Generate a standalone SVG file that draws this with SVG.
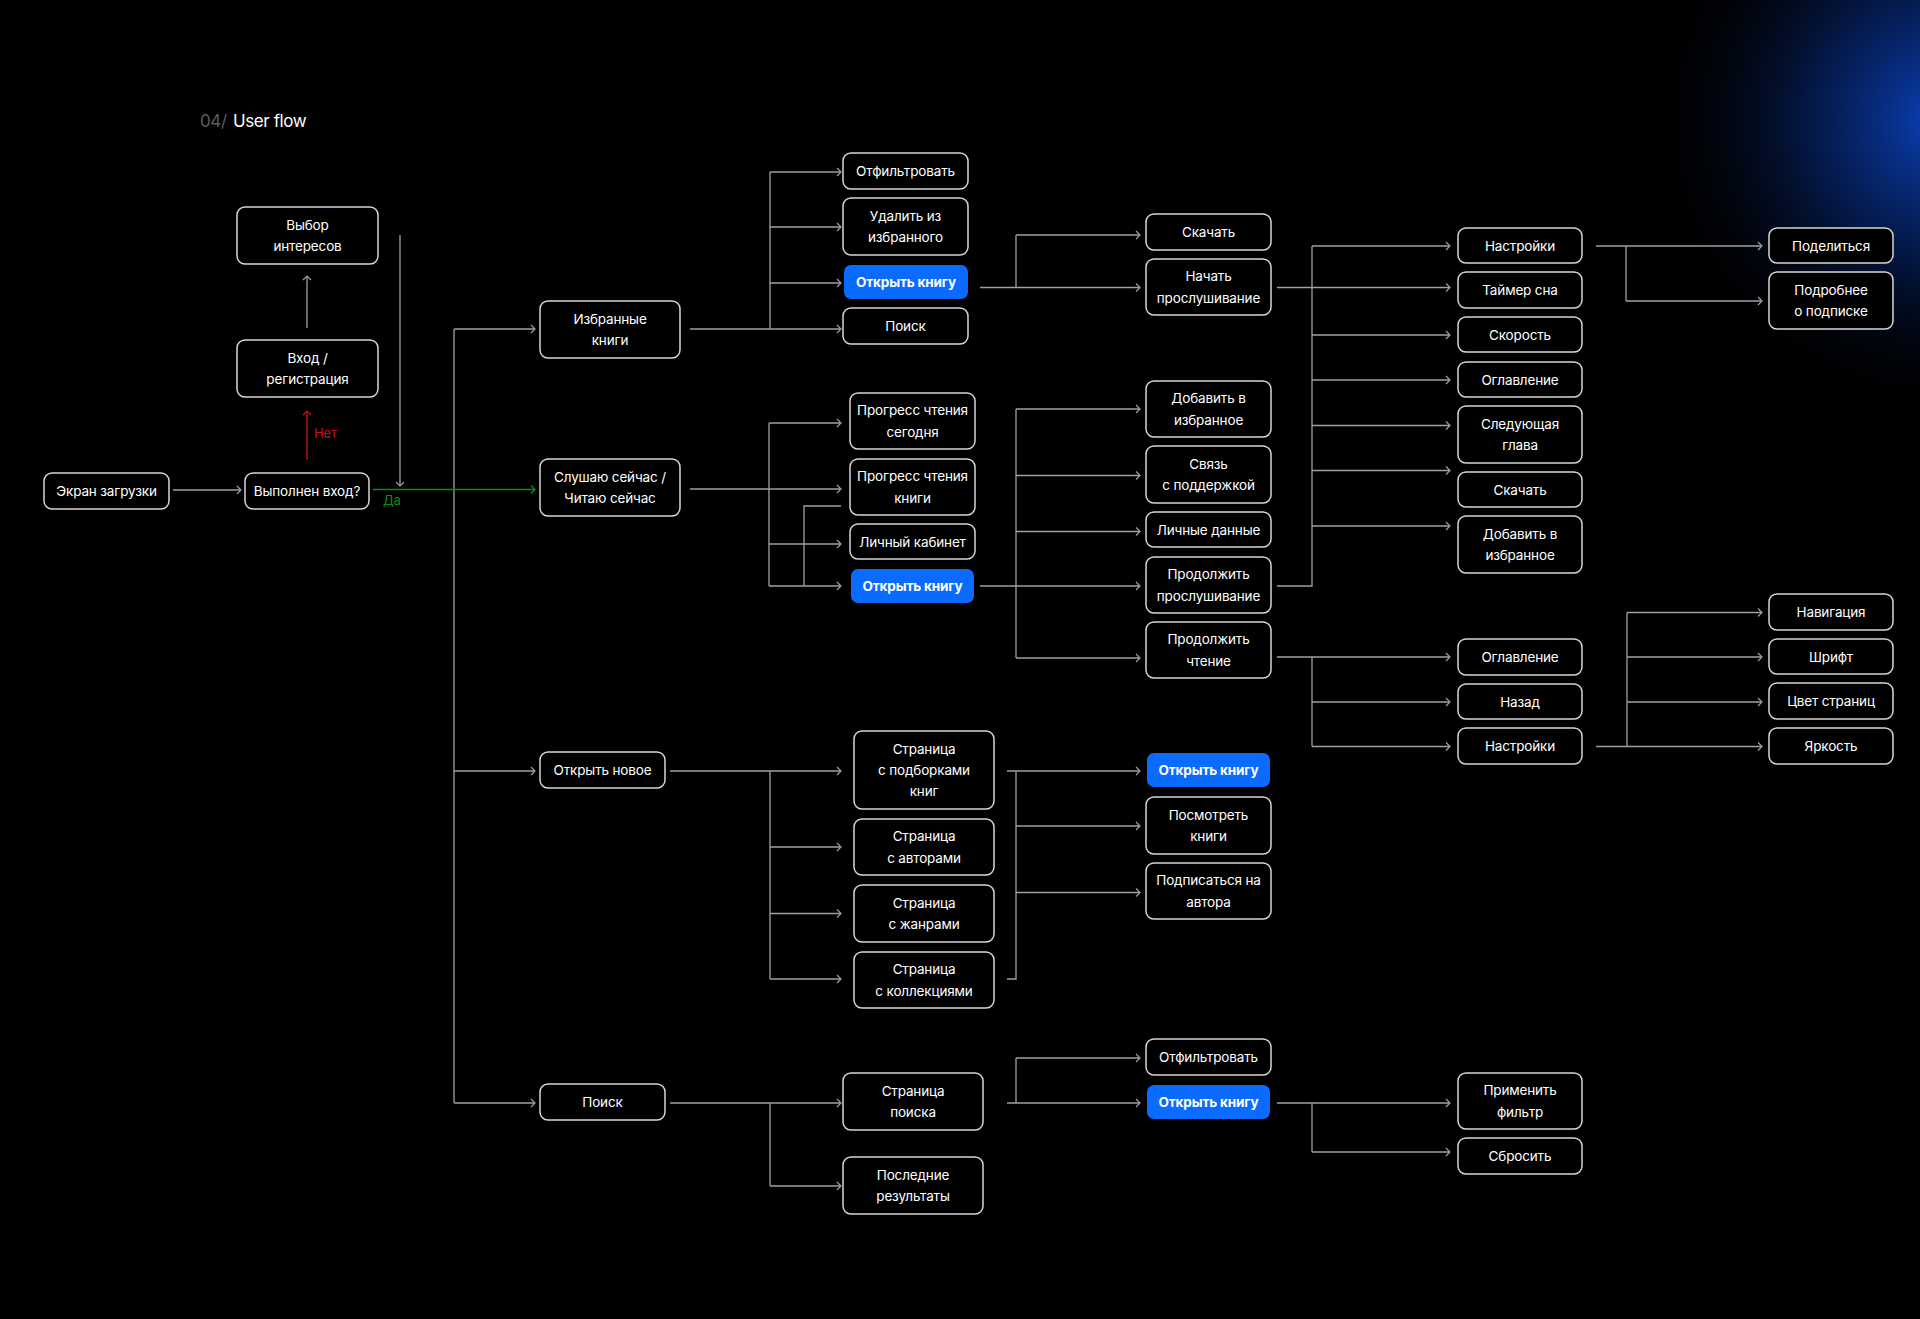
<svg xmlns="http://www.w3.org/2000/svg" width="1920" height="1319" viewBox="0 0 1920 1319">
<defs>
<radialGradient id="glow" cx="1945" cy="120" r="300" gradientUnits="userSpaceOnUse">
<stop offset="0" stop-color="#0c4fe0" stop-opacity="0.85"/>
<stop offset="0.45" stop-color="#0a3aa8" stop-opacity="0.42"/>
<stop offset="1" stop-color="#000" stop-opacity="0"/>
</radialGradient>
<marker id="ah" markerUnits="userSpaceOnUse" markerWidth="10" markerHeight="12" refX="5" refY="5" orient="auto">
<path d="M1,1 L5,5 L1,9" fill="none" stroke="#a0a0a0" stroke-width="1.2"/>
</marker>
<marker id="ahr" markerUnits="userSpaceOnUse" markerWidth="10" markerHeight="12" refX="5" refY="5" orient="auto">
<path d="M1,1 L5,5 L1,9" fill="none" stroke="#c3141e" stroke-width="1.2"/>
</marker>
<marker id="ahg" markerUnits="userSpaceOnUse" markerWidth="10" markerHeight="12" refX="5" refY="5" orient="auto">
<path d="M1,1 L5,5 L1,9" fill="none" stroke="#138a13" stroke-width="1.2"/>
</marker>
</defs>
<style>
.n rect{fill:#000;stroke:#d6d6d6;stroke-width:1.5}
.b rect{fill:#0b6bff;stroke:none}
text{font-family:Inter,"Liberation Sans",sans-serif;font-size:13.5px;letter-spacing:-0.15px;fill:#fff;text-anchor:middle}
.b text{font-weight:700}
.c path{fill:none;stroke:#a0a0a0;stroke-width:1.3}
.c .a{marker-end:url(#ah)}
</style>
<rect width="1920" height="1319" fill="#000"/>
<rect width="1920" height="1319" fill="url(#glow)"/>
<g id="title">
<text x="200" y="127" style="font-size:17px;letter-spacing:-0.4px;text-anchor:start;fill:#5c5c5c">04/</text>
<text x="233" y="127" style="font-size:17px;letter-spacing:-0.4px;text-anchor:start">User flow</text>
</g>
<g id="connectors" class="c">
<path class="a" d="M173,490 H241"/>
<path d="M307,460 V411" style="stroke:#c3141e;marker-end:url(#ahr)"/>
<path class="a" d="M307,328 V276"/>
<path class="a" d="M400,235 V486"/>
<path d="M454,329 V1103"/>
<path class="a" d="M454,329 H535"/>
<path class="a" d="M454,771 H535"/>
<path class="a" d="M454,1103 H535"/>
<path d="M373,489.5 H535" style="stroke:#138a13;marker-end:url(#ahg)"/>
<path class="a" d="M690,329 H841"/>
<path d="M770,172 V329"/>
<path class="a" d="M770,172 H841"/>
<path class="a" d="M770,227 H841"/>
<path class="a" d="M770,283 H841"/>
<path class="a" d="M690,489 H841"/>
<path d="M769,423 V586"/>
<path class="a" d="M769,423 H841"/>
<path class="a" d="M769,544 H841"/>
<path class="a" d="M769,586 H841"/>
<path d="M841,506 H804 V586"/>
<path class="a" d="M980,287.5 H1140"/>
<path d="M1016,235 V287.5"/>
<path class="a" d="M1016,235 H1140"/>
<path class="a" d="M980,586 H1140"/>
<path d="M1016,409 V658"/>
<path class="a" d="M1016,409 H1140"/>
<path class="a" d="M1016,475.5 H1140"/>
<path class="a" d="M1016,531.5 H1140"/>
<path class="a" d="M1016,658 H1140"/>
<path class="a" d="M1277,287.5 H1450"/>
<path d="M1312,246 V586 H1277"/>
<path class="a" d="M1312,246 H1450"/>
<path class="a" d="M1312,335 H1450"/>
<path class="a" d="M1312,380 H1450"/>
<path class="a" d="M1312,425.5 H1450"/>
<path class="a" d="M1312,470.5 H1450"/>
<path class="a" d="M1312,526 H1450"/>
<path class="a" d="M1277,657 H1450"/>
<path d="M1312,657 V746.5"/>
<path class="a" d="M1312,702 H1450"/>
<path class="a" d="M1312,746.5 H1450"/>
<path class="a" d="M1596,246 H1762"/>
<path d="M1626,246 V301"/>
<path class="a" d="M1626,301 H1762"/>
<path class="a" d="M1596,746.5 H1762"/>
<path d="M1627,612.5 V746.5"/>
<path class="a" d="M1627,612.5 H1762"/>
<path class="a" d="M1627,657 H1762"/>
<path class="a" d="M1627,702 H1762"/>
<path class="a" d="M670,771 H841"/>
<path d="M770,771 V979"/>
<path class="a" d="M770,847 H841"/>
<path class="a" d="M770,913.5 H841"/>
<path class="a" d="M770,979 H841"/>
<path class="a" d="M1007,771 H1140"/>
<path d="M1016,771 V979 H1007"/>
<path class="a" d="M1016,826 H1140"/>
<path class="a" d="M1016,892.5 H1140"/>
<path class="a" d="M670,1103 H841"/>
<path d="M770,1103 V1186"/>
<path class="a" d="M770,1186 H841"/>
<path class="a" d="M1007,1103 H1140"/>
<path d="M1016,1058 V1103"/>
<path class="a" d="M1016,1058 H1140"/>
<path class="a" d="M1277,1103 H1450"/>
<path d="M1312,1103 V1152"/>
<path class="a" d="M1312,1152 H1450"/>
</g>
<g id="labels">
<text x="314" y="438" style="fill:#c3141e;text-anchor:start;font-size:13px">Нет</text>
<text x="383" y="505" style="fill:#138a13;text-anchor:start;font-size:13px">Да</text>
</g>
<g id="n1" class="n"><rect x="44" y="473" width="125" height="36" rx="8"/><text x="106.5" y="496">Экран загрузки</text></g>
<g id="n2" class="n"><rect x="245" y="473" width="124" height="36" rx="8"/><text x="307" y="496">Выполнен вход?</text></g>
<g id="n3" class="n"><rect x="237" y="340" width="141" height="57" rx="8"/><text x="307.5" y="362.7">Вход /</text><text x="307.5" y="384.2">регистрация</text></g>
<g id="n4" class="n"><rect x="237" y="207" width="141" height="57" rx="8"/><text x="307.5" y="229.7">Выбор</text><text x="307.5" y="251.2">интересов</text></g>
<g id="n5" class="n"><rect x="540" y="301" width="140" height="57" rx="8"/><text x="610" y="323.7">Избранные</text><text x="610" y="345.2">книги</text></g>
<g id="n6" class="n"><rect x="540" y="459" width="140" height="57" rx="8"/><text x="610" y="481.7">Слушаю сейчас /</text><text x="610" y="503.2">Читаю сейчас</text></g>
<g id="n7" class="n"><rect x="540" y="752" width="125" height="36" rx="8"/><text x="602.5" y="775">Открыть новое</text></g>
<g id="n8" class="n"><rect x="540" y="1084" width="125" height="36" rx="8"/><text x="602.5" y="1107">Поиск</text></g>
<g id="n9" class="n"><rect x="843" y="153" width="125" height="36" rx="8"/><text x="905.5" y="176">Отфильтровать</text></g>
<g id="n10" class="n"><rect x="843" y="198" width="125" height="57" rx="8"/><text x="905.5" y="220.7">Удалить из</text><text x="905.5" y="242.2">избранного</text></g>
<g id="n11" class="b"><rect x="844" y="265" width="124" height="34" rx="7"/><text x="906" y="287">Открыть книгу</text></g>
<g id="n12" class="n"><rect x="843" y="308" width="125" height="36" rx="8"/><text x="905.5" y="331">Поиск</text></g>
<g id="n13" class="n"><rect x="850" y="393" width="125" height="56" rx="8"/><text x="912.5" y="415.2">Прогресс чтения</text><text x="912.5" y="436.7">сегодня</text></g>
<g id="n14" class="n"><rect x="850" y="459" width="125" height="56" rx="8"/><text x="912.5" y="481.2">Прогресс чтения</text><text x="912.5" y="502.7">книги</text></g>
<g id="n15" class="n"><rect x="850" y="524" width="125" height="35" rx="8"/><text x="912.5" y="546.5">Личный кабинет</text></g>
<g id="n16" class="b"><rect x="851" y="569" width="123" height="34" rx="7"/><text x="912.5" y="591">Открыть книгу</text></g>
<g id="n17" class="n"><rect x="854" y="731" width="140" height="78" rx="8"/><text x="924" y="754">Страница</text><text x="924" y="775">с подборками</text><text x="924" y="796">книг</text></g>
<g id="n18" class="n"><rect x="854" y="819" width="140" height="56" rx="8"/><text x="924" y="841.2">Страница</text><text x="924" y="862.7">с авторами</text></g>
<g id="n19" class="n"><rect x="854" y="885" width="140" height="57" rx="8"/><text x="924" y="907.7">Страница</text><text x="924" y="929.2">с жанрами</text></g>
<g id="n20" class="n"><rect x="854" y="952" width="140" height="56" rx="8"/><text x="924" y="974.2">Страница</text><text x="924" y="995.7">с коллекциями</text></g>
<g id="n21" class="n"><rect x="843" y="1073" width="140" height="57" rx="8"/><text x="913" y="1095.7">Страница</text><text x="913" y="1117.2">поиска</text></g>
<g id="n22" class="n"><rect x="843" y="1157" width="140" height="57" rx="8"/><text x="913" y="1179.7">Последние</text><text x="913" y="1201.2">результаты</text></g>
<g id="n23" class="n"><rect x="1146" y="214" width="125" height="36" rx="8"/><text x="1208.5" y="237">Скачать</text></g>
<g id="n24" class="n"><rect x="1146" y="259" width="125" height="56" rx="8"/><text x="1208.5" y="281.2">Начать</text><text x="1208.5" y="302.7">прослушивание</text></g>
<g id="n25" class="n"><rect x="1146" y="381" width="125" height="56" rx="8"/><text x="1208.5" y="403.2">Добавить в</text><text x="1208.5" y="424.7">избранное</text></g>
<g id="n26" class="n"><rect x="1146" y="446" width="125" height="57" rx="8"/><text x="1208.5" y="468.7">Связь</text><text x="1208.5" y="490.2">с поддержкой</text></g>
<g id="n27" class="n"><rect x="1146" y="512" width="125" height="35" rx="8"/><text x="1208.5" y="534.5">Личные данные</text></g>
<g id="n28" class="n"><rect x="1146" y="557" width="125" height="56" rx="8"/><text x="1208.5" y="579.2">Продолжить</text><text x="1208.5" y="600.7">прослушивание</text></g>
<g id="n29" class="n"><rect x="1146" y="622" width="125" height="56" rx="8"/><text x="1208.5" y="644.2">Продолжить</text><text x="1208.5" y="665.7">чтение</text></g>
<g id="n30" class="b"><rect x="1147" y="753" width="123" height="34" rx="7"/><text x="1208.5" y="775">Открыть книгу</text></g>
<g id="n31" class="n"><rect x="1146" y="797" width="125" height="57" rx="8"/><text x="1208.5" y="819.7">Посмотреть</text><text x="1208.5" y="841.2">книги</text></g>
<g id="n32" class="n"><rect x="1146" y="863" width="125" height="56" rx="8"/><text x="1208.5" y="885.2">Подписаться на</text><text x="1208.5" y="906.7">автора</text></g>
<g id="n33" class="n"><rect x="1146" y="1039" width="125" height="36" rx="8"/><text x="1208.5" y="1062">Отфильтровать</text></g>
<g id="n34" class="b"><rect x="1147" y="1085" width="123" height="34" rx="7"/><text x="1208.5" y="1107">Открыть книгу</text></g>
<g id="n35" class="n"><rect x="1458" y="228" width="124" height="35" rx="8"/><text x="1520" y="250.5">Настройки</text></g>
<g id="n36" class="n"><rect x="1458" y="272" width="124" height="36" rx="8"/><text x="1520" y="295">Таймер сна</text></g>
<g id="n37" class="n"><rect x="1458" y="317" width="124" height="35" rx="8"/><text x="1520" y="339.5">Скорость</text></g>
<g id="n38" class="n"><rect x="1458" y="362" width="124" height="35" rx="8"/><text x="1520" y="384.5">Оглавление</text></g>
<g id="n39" class="n"><rect x="1458" y="406" width="124" height="57" rx="8"/><text x="1520" y="428.7">Следующая</text><text x="1520" y="450.2">глава</text></g>
<g id="n40" class="n"><rect x="1458" y="472" width="124" height="35" rx="8"/><text x="1520" y="494.5">Скачать</text></g>
<g id="n41" class="n"><rect x="1458" y="516" width="124" height="57" rx="8"/><text x="1520" y="538.7">Добавить в</text><text x="1520" y="560.2">избранное</text></g>
<g id="n42" class="n"><rect x="1458" y="639" width="124" height="36" rx="8"/><text x="1520" y="662">Оглавление</text></g>
<g id="n43" class="n"><rect x="1458" y="684" width="124" height="35" rx="8"/><text x="1520" y="706.5">Назад</text></g>
<g id="n44" class="n"><rect x="1458" y="728" width="124" height="36" rx="8"/><text x="1520" y="751">Настройки</text></g>
<g id="n45" class="n"><rect x="1458" y="1073" width="124" height="56" rx="8"/><text x="1520" y="1095.2">Применить</text><text x="1520" y="1116.7">фильтр</text></g>
<g id="n46" class="n"><rect x="1458" y="1138" width="124" height="36" rx="8"/><text x="1520" y="1161">Сбросить</text></g>
<g id="n47" class="n"><rect x="1769" y="228" width="124" height="35" rx="8"/><text x="1831" y="250.5">Поделиться</text></g>
<g id="n48" class="n"><rect x="1769" y="272" width="124" height="57" rx="8"/><text x="1831" y="294.7">Подробнее</text><text x="1831" y="316.2">о подписке</text></g>
<g id="n49" class="n"><rect x="1769" y="594" width="124" height="36" rx="8"/><text x="1831" y="617">Навигация</text></g>
<g id="n50" class="n"><rect x="1769" y="639" width="124" height="35" rx="8"/><text x="1831" y="661.5">Шрифт</text></g>
<g id="n51" class="n"><rect x="1769" y="683" width="124" height="36" rx="8"/><text x="1831" y="706">Цвет страниц</text></g>
<g id="n52" class="n"><rect x="1769" y="728" width="124" height="36" rx="8"/><text x="1831" y="751">Яркость</text></g>
</svg>
